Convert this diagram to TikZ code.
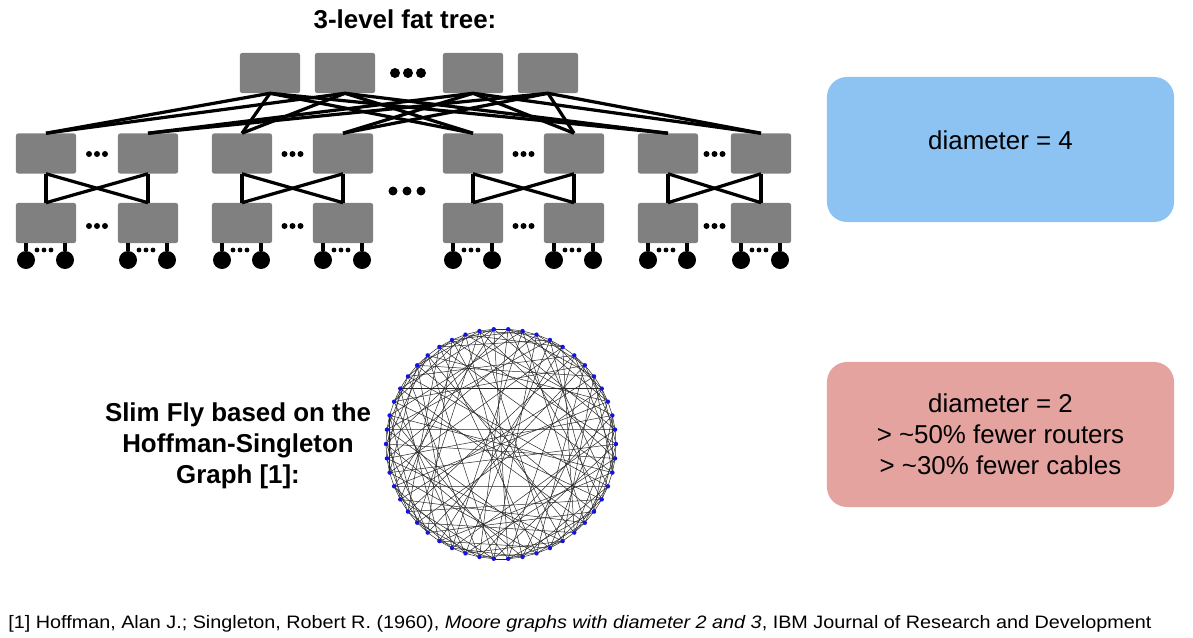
\documentclass[tikz,border=0pt]{standalone}
\usepackage{fontspec}
\setmainfont{Liberation Sans}
\newfontfamily\notefamily[FakeStretch=1.1]{Liberation Sans}
\usetikzlibrary{positioning, calc}

\definecolor{switchgray}{RGB}{128,128,128}
\definecolor{diamblue}{RGB}{141,195,242}
\definecolor{diamred}{RGB}{229,163,160}
\definecolor{vertblue}{RGB}{20,20,225}
\newcommand{\labelfont}{\fontsize{18.4pt}{22pt}\selectfont}
\newcommand{\notefont}{\notefamily\fontsize{12.8pt}{15pt}\selectfont}

\begin{document}
\begin{tikzpicture}[x=0.025cm, y=-0.025cm,
  switch/.style={rectangle, rounded corners=1.5pt, fill=switchgray,
                 minimum width=1.5cm, minimum height=1cm, inner sep=0pt},
  host/.style={circle, fill=black, minimum size=0.45cm, inner sep=0pt},
  link/.style={line width=2.3pt, black},
  result/.style={rectangle, rounded corners=0.5cm,
                 minimum width=8.675cm, minimum height=3.625cm,
                 align=center, font=\labelfont},
  heading/.style={font=\labelfont\bfseries, align=center},
  hsedge/.style={line width=0.35pt, black!85},
  hsvert/.style={circle, fill=vertblue, minimum size=0.11cm, inner sep=0pt},
]
\useasboundingbox[fill=white] (0,0) rectangle (1193,638);

%% -- fat tree: core row ------------------------------------------------
\node[heading, anchor=base] (fatlabel) at (405,28) {3-level fat tree:};
\node[switch] (c1) at (270,73) {};
\node[switch] (c2) at (345,73) {};
\node[switch] (c3) at (473,73) {};
\node[switch] (c4) at (548,73) {};
\foreach \d in {-13,0,13} \fill (408+\d,73) circle (0.125cm);

%% -- pods ----------------------------------------------------------------
\foreach \p/\xa/\xb in {1/46/148, 2/242/343, 3/473/574, 4/668/761} {
  \node[switch] (a\p1) at (\xa,153.5) {};
  \node[switch] (a\p2) at (\xb,153.5) {};
  \node[switch] (e\p1) at (\xa,223) {};
  \node[switch] (e\p2) at (\xb,223) {};
  \foreach \d in {-8,0,8} {
    \fill ($(a\p1)!0.5!(a\p2)+(\d,0.5)$) circle (0.075cm);
    \fill ($(e\p1)!0.5!(e\p2)+(\d,3)$) circle (0.075cm);
  }
  \foreach \k in {1,2} {
    \node[host] (h\p\k a) at ($(e\p\k)+(-20,37)$) {};
    \node[host] (h\p\k b) at ($(e\p\k)+(19,37)$) {};
    \draw[link] (h\p\k a) -- (h\p\k a |- e\p\k.south);
    \draw[link] (h\p\k b) -- (h\p\k b |- e\p\k.south);
    \foreach \d in {-9,-2,5} \fill ($(e\p\k)+(\d,27)$) circle (0.06cm);
  }
}
\foreach \d in {-14,0,14} \fill (407+\d,191) circle (0.112cm);

%% -- links ---------------------------------------------------------------
\foreach \p in {1,...,4} {
  \draw[link] (c1.south) -- (a\p1.north);
  \draw[link] (c2.south) -- (a\p1.north);
  \draw[link] (c3.south) -- (a\p2.north);
  \draw[link] (c4.south) -- (a\p2.north);
  \draw[link] (a\p1.south) -- (e\p1.north);
  \draw[link] (a\p1.south) -- (e\p2.north);
  \draw[link] (a\p2.south) -- (e\p1.north);
  \draw[link] (a\p2.south) -- (e\p2.north);
}

%% -- Hoffman-Singleton graph (pentagons p, pentagrams q) ------------------
\node[heading] (sflabel) at (238,446) {Slim Fly based on the\\Hoffman-Singleton\\Graph [1]:};
\coordinate (hs) at (501,444);
\foreach \h/\s/\t in {0/0/4, 1/2/2, 2/3/1, 3/3/1, 4/2/2} {
  \foreach \j in {0,...,4} {
    \pgfmathtruncatemacro\ps{10*\h+mod(\j-\s+5,5)}
    \pgfmathtruncatemacro\qs{10*\h+5+mod(3*(\j-\t+5),5)}
    \coordinate (p\h\j) at ($(hs)+({93.6+7.2*\ps}:115)$);
    \coordinate (q\h\j) at ($(hs)+({93.6+7.2*\qs}:115)$);
  }
}
\foreach \h in {0,...,4} {
  \foreach \j in {0,...,4} {
    \pgfmathtruncatemacro\jn{mod(\j+1,5)}
    \pgfmathtruncatemacro\jm{mod(\j+2,5)}
    \draw[hsedge] (p\h\j) -- (p\h\jn);
    \draw[hsedge] (q\h\j) -- (q\h\jm);
    \foreach \i in {0,...,4} {
      \pgfmathtruncatemacro\k{mod(\h*\i+\j,5)}
      \draw[hsedge] (p\h\j) -- (q\i\k);
    }
  }
}
\foreach \h in {0,...,4} {
  \foreach \j in {0,...,4} {
    \node[hsvert] (dp\h\j) at (p\h\j) {};
    \node[hsvert] (dq\h\j) at (q\h\j) {};
  }
}

%% -- results -------------------------------------------------------------
\node[result, fill=diamblue, text depth=0.45cm] (fatdiam) at (1000.5,149.5) {diameter = 4};
\node[result, fill=diamred] (sfdiam) at (1000.5,434.5)
  {diameter = 2\\> \textasciitilde50\% fewer routers\\> \textasciitilde30\% fewer cables};

%% -- reference -----------------------------------------------------------
\node[anchor=base west, font=\notefont, inner sep=0pt] (ref) at (8,628)
  {[1] Hoffman, Alan J.; Singleton, Robert R. (1960), \textit{Moore graphs with diameter 2 and 3}, IBM Journal of Research and Development};
\end{tikzpicture}
\end{document}
